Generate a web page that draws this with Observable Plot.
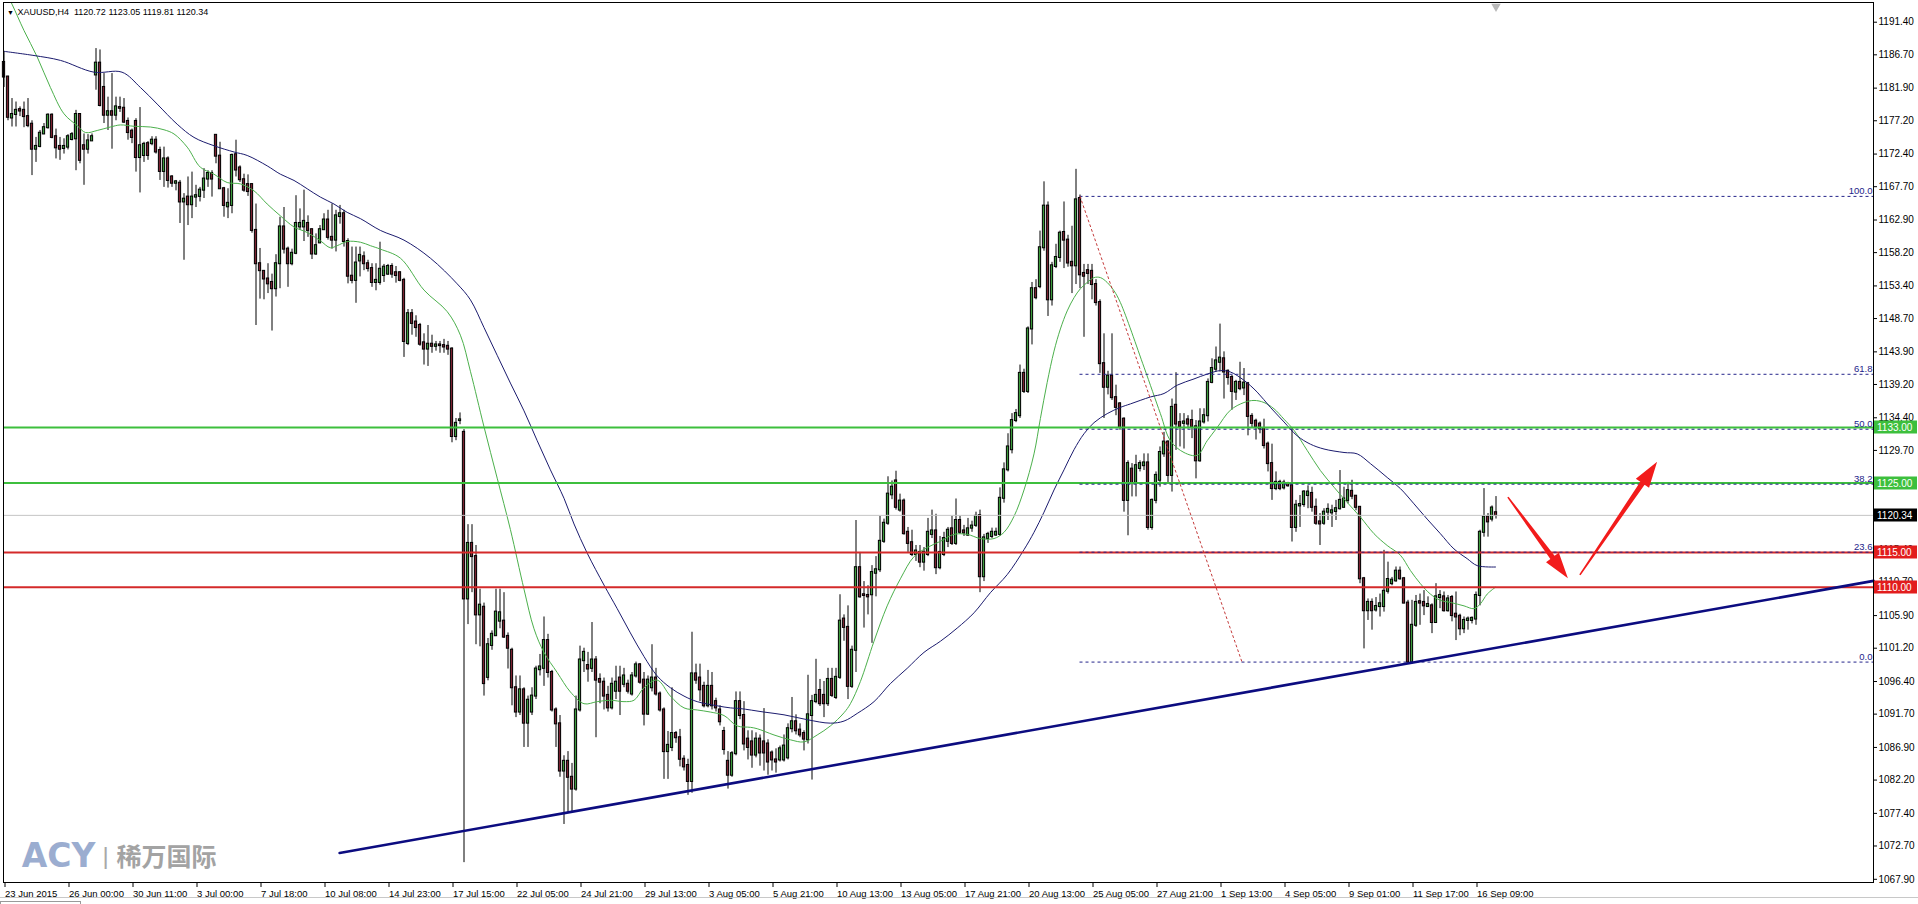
<!DOCTYPE html>
<html>
<head>
<meta charset="utf-8">
<script src="https://cdn.jsdelivr.net/npm/d3@7"></script>
<script src="https://cdn.jsdelivr.net/npm/@observablehq/plot@0.6"></script>
<style>
  html, body { margin: 0; padding: 0; background: #ffffff; overflow: hidden; }
  #chart svg { display: block; }
</style>
</head>
<body>
<div id="chart"></div>
<script>
// ---------- DATA ----------
const symbolTitle = "XAUUSD,H4";
const titleValues = ["1120.72", "1123.05", "1119.81", "1120.34"];

const open = [1185.6,1183.5,1177.6,1178.1,1178.8,1178.7,1177.8,1176.7,1173.1,1173.5,
1175.3,1176.2,1178.0,1174.9,1173.5,1173.2,1173.4,1174.5,1174.6,1178.1,
1173.6,1173.1,1174.3,1183.8,1185.5,1182.0,1178.0,1178.5,1178.0,1179.1,
1179.0,1177.1,1175.7,1177.1,1171.9,1172.2,1173.9,1173.9,1174.4,1172.9,
1169.9,1171.7,1169.1,1168.2,1168.2,1165.5,1166.2,1165.1,1166.2,1166.3,
1167.2,1168.8,1169.6,1175.1,1172.1,1167.4,1164.8,1165.0,1172.3,1170.4,
1168.7,1168.0,1168.0,1161.4,1156.6,1155.5,1154.4,1153.9,1153.0,1156.6,
1161.9,1158.7,1156.6,1158.1,1161.9,1161.9,1162.4,1161.5,1158.0,1159.6,
1161.5,1162.9,1160.4,1160.0,1163.4,1163.8,1159.8,1154.8,1154.2,1157.0,
1157.6,1156.6,1155.9,1153.9,1153.9,1154.9,1155.1,1156.2,1155.3,1155.3,
1154.2,1145.1,1149.4,1148.2,1147.7,1145.2,1144.3,1145.0,1144.7,1144.9,
1144.8,1144.7,1144.3,1131.7,1134.0,1132.3,1108.3,1116.3,1114.4,1106.0,
1107.1,1097.0,1101.6,1103.0,1105.1,1105.1,1102.9,1100.9,1095.5,1092.0,
1095.2,1090.4,1092.0,1094.3,1098.1,1098.3,1102.3,1097.7,1092.3,1090.3,
1083.5,1084.9,1082.6,1080.9,1092.3,1099.4,1098.7,1098.3,1099.5,1096.7,
1096.3,1094.4,1092.6,1095.0,1096.9,1096.0,1096.0,1094.6,1097.2,1098.8,
1096.6,1091.7,1095.5,1096.9,1094.6,1092.3,1086.3,1086.9,1088.9,1088.3,
1085.2,1084.3,1082.0,1097.5,1096.9,1095.7,1092.9,1095.7,1093.5,1092.3,
1089.2,1084.9,1082.9,1086.0,1093.5,1091.5,1088.1,1087.7,1085.8,1088.1,
1087.7,1087.4,1086.1,1085.1,1085.1,1085.1,1085.4,1089.6,1090.6,1089.4,
1088.9,1088.0,1091.5,1093.5,1095.1,1094.4,1093.2,1096.7,1094.1,1097.0,
1105.4,1104.2,1095.7,1100.9,1112.8,1108.9,1108.8,1108.9,1112.0,1112.5,
1116.6,1119.2,1123.3,1125.3,1121.1,1122.4,1117.9,1116.4,1114.7,1115.0,
1113.6,1114.7,1117.6,1118.1,1112.8,1114.7,1116.6,1118.4,1116.3,1119.6,
1118.1,1117.5,1118.5,1118.9,1120.3,1111.5,1117.0,1117.3,1117.5,1117.6,
1122.8,1126.9,1129.8,1134.0,1134.7,1140.8,1138.2,1147.2,1153.0,1153.3,
1158.9,1164.9,1151.4,1156.2,1157.5,1161.1,1160.0,1156.8,1156.3,1166.0,
1155.2,1155.6,1155.5,1153.6,1151.0,1142.2,1138.8,1140.4,1137.3,1136.4,
1134.2,1122.5,1127.0,1125.1,1127.1,1127.5,1127.9,1118.6,1122.5,1125.4,
1129.2,1130.9,1126.1,1136.2,1133.7,1133.6,1134.1,1134.0,1133.1,1128.2,
1133.8,1134.7,1139.5,1141.4,1142.4,1142.9,1141.1,1140.2,1138.1,1139.5,
1138.7,1139.3,1134.6,1133.9,1133.5,1132.8,1130.6,1127.8,1124.2,1125.1,
1124.3,1124.8,1124.6,1118.6,1121.7,1121.9,1123.2,1123.5,1121.5,1119.4,
1119.2,1120.8,1120.7,1120.9,1121.3,1121.5,1122.5,1123.8,1123.1,1121.5,
1111.2,1106.6,1107.8,1106.7,1107.2,1107.2,1109.4,1110.5,1110.9,1112.3,
1111.2,1107.7,1099.2,1104.5,1107.9,1107.8,1107.2,1107.3,1104.9,1108.5,
1108.6,1106.6,1108.5,1106.1,1105.8,1104.0,1105.2,1105.2,1105.4,1108.8,
1117.9,1120.1,1119.8,1120.72];

const high = [1187.2,1183.6,1180.4,1179.9,1179.2,1179.9,1180.4,1177.2,1174.8,1175.8,
1176.8,1178.2,1178.2,1176.0,1174.8,1174.6,1175.2,1175.5,1178.7,1178.2,
1175.3,1175.2,1175.3,1187.6,1187.4,1184.0,1180.6,1184.0,1180.6,1180.6,
1180.4,1177.6,1176.0,1177.5,1179.1,1174.1,1174.2,1174.9,1174.9,1173.4,
1173.4,1172.0,1169.3,1168.6,1168.6,1166.7,1169.1,1169.8,1167.9,1167.6,
1170.3,1170.0,1170.0,1175.1,1174.1,1167.6,1167.4,1172.4,1174.4,1170.7,
1169.5,1169.4,1168.1,1165.2,1158.8,1155.6,1156.6,1155.1,1157.9,1163.3,
1164.7,1159.0,1158.7,1166.4,1164.5,1167.2,1163.5,1161.6,1160.9,1162.1,
1163.8,1164.3,1165.2,1164.3,1165.0,1164.3,1160.2,1159.0,1159.0,1159.0,
1158.3,1157.1,1156.6,1156.6,1159.7,1156.5,1156.5,1156.6,1156.2,1155.4,
1154.5,1150.0,1150.0,1149.1,1148.0,1146.5,1147.7,1146.3,1145.4,1145.4,
1145.7,1145.4,1144.5,1134.3,1135.1,1132.7,1119.0,1119.0,1116.0,1109.7,
1107.7,1102.6,1103.7,1109.7,1109.7,1109.2,1103.4,1101.2,1097.2,1097.2,
1095.5,1094.3,1095.5,1098.6,1100.3,1105.7,1103.2,1098.0,1092.6,1091.5,
1085.7,1086.3,1084.6,1094.3,1101.5,1101.2,1100.6,1104.9,1100.0,1097.5,
1096.9,1095.7,1096.9,1098.6,1098.6,1098.3,1096.6,1097.7,1099.2,1099.0,
1097.7,1097.2,1101.7,1098.3,1094.9,1092.6,1089.2,1095.5,1089.2,1089.5,
1085.7,1085.2,1103.5,1098.9,1098.9,1096.3,1098.0,1097.7,1094.0,1092.9,
1089.8,1086.3,1086.3,1094.9,1094.9,1093.5,1089.3,1089.3,1089.0,1088.7,
1092.5,1088.0,1086.4,1086.7,1087.1,1088.7,1090.3,1094.1,1091.6,1090.3,
1089.3,1097.3,1094.4,1099.6,1096.7,1096.4,1098.3,1098.3,1098.3,1108.9,
1106.0,1107.3,1101.5,1119.6,1115.0,1110.8,1110.2,1113.1,1114.4,1120.2,
1119.8,1125.9,1125.3,1126.7,1123.4,1122.7,1118.6,1118.2,1116.0,1116.0,
1115.7,1119.9,1121.1,1120.5,1117.3,1117.9,1118.6,1120.2,1122.7,1120.2,
1118.9,1119.9,1119.5,1120.8,1121.1,1117.6,1117.9,1118.5,1118.5,1124.3,
1127.9,1132.1,1135.0,1135.6,1142.0,1141.4,1147.5,1153.9,1154.3,1161.3,
1168.4,1165.5,1156.8,1159.4,1161.3,1165.5,1160.7,1162.0,1170.2,1166.5,
1156.5,1156.5,1156.5,1154.3,1151.4,1146.5,1141.1,1146.5,1139.1,1136.6,
1134.4,1128.2,1127.8,1129.0,1128.2,1129.2,1129.2,1122.7,1126.6,1130.2,
1132.3,1131.1,1137.1,1140.9,1135.0,1135.0,1134.7,1135.5,1134.0,1135.7,
1135.7,1140.0,1142.9,1144.6,1147.9,1143.9,1141.3,1140.5,1139.8,1142.4,
1141.5,1139.5,1135.0,1134.2,1133.8,1134.2,1130.9,1130.6,1126.6,1125.4,
1125.4,1125.1,1132.8,1122.5,1123.2,1123.9,1124.6,1124.4,1122.7,1120.6,
1121.3,1122.0,1121.8,1122.5,1126.8,1124.4,1125.1,1125.4,1123.2,1121.6,
1111.4,1108.3,1108.3,1108.5,1109.0,1115.3,1113.6,1111.4,1112.9,1112.9,
1111.4,1108.1,1108.1,1108.8,1109.0,1109.5,1108.6,1107.6,1110.5,1109.5,
1109.3,1108.8,1108.8,1109.3,1106.1,1105.7,1105.7,1105.7,1109.3,1118.2,
1124.2,1120.6,1121.7,1123.05];

const low = [1182.0,1177.2,1176.3,1176.3,1177.8,1176.2,1176.2,1169.3,1171.2,1173.3,
1175.2,1176.0,1174.6,1171.7,1171.5,1172.4,1173.0,1174.3,1170.0,1171.0,
1167.9,1172.4,1174.3,1181.6,1179.2,1176.8,1175.8,1173.1,1177.2,1178.4,
1176.8,1174.4,1173.9,1169.8,1166.8,1171.2,1171.5,1173.6,1172.4,1168.6,
1167.6,1167.5,1167.6,1167.1,1162.4,1157.1,1162.1,1163.1,1164.7,1165.5,
1166.0,1167.6,1166.2,1171.0,1167.4,1163.3,1163.1,1163.8,1169.1,1168.3,
1166.9,1166.3,1161.0,1147.7,1151.5,1151.4,1152.3,1146.9,1151.8,1153.0,
1158.0,1153.2,1156.3,1157.9,1161.4,1159.8,1160.4,1157.2,1157.8,1159.5,
1161.4,1160.0,1158.7,1158.3,1162.3,1159.0,1153.7,1153.7,1150.9,1154.7,
1155.6,1155.4,1153.2,1152.7,1153.5,1153.9,1154.9,1154.5,1153.8,1154.0,
1143.1,1144.8,1146.3,1146.0,1144.7,1142.0,1141.8,1143.7,1144.0,1143.7,
1143.7,1143.4,1130.8,1131.1,1133.4,1070.3,1104.6,1109.2,1101.7,1101.4,
1094.3,1096.5,1100.9,1102.9,1104.0,1102.6,1098.2,1092.9,1091.2,1091.5,
1086.9,1086.9,1091.5,1093.8,1097.2,1095.7,1096.9,1092.0,1086.9,1082.6,
1075.8,1077.5,1077.5,1080.6,1092.0,1097.7,1096.3,1097.7,1088.3,1093.2,
1092.3,1092.0,1092.3,1093.8,1091.5,1095.5,1094.6,1094.3,1096.9,1096.0,
1090.0,1091.5,1094.9,1094.3,1092.0,1082.3,1082.3,1086.3,1087.5,1084.1,
1083.5,1080.0,1080.3,1096.0,1093.5,1092.6,1092.6,1092.3,1092.0,1090.0,
1085.8,1080.9,1082.6,1085.7,1090.9,1086.4,1085.1,1083.9,1085.4,1084.2,
1083.5,1082.9,1083.5,1083.2,1084.8,1084.8,1085.1,1089.0,1088.7,1088.3,
1086.4,1087.4,1082.2,1093.2,1092.8,1091.2,1092.8,1094.1,1093.8,1096.7,
1102.2,1093.8,1095.4,1097.7,1108.4,1104.1,1106.0,1101.9,1108.6,1112.1,
1116.3,1118.9,1122.6,1121.1,1120.8,1117.5,1115.0,1114.4,1113.7,1112.8,
1112.3,1114.4,1117.0,1111.8,1112.5,1114.4,1115.7,1116.0,1116.0,1117.6,
1117.3,1117.3,1117.9,1118.6,1109.2,1110.8,1116.3,1117.0,1117.3,1117.3,
1122.1,1126.6,1129.2,1133.7,1134.3,1137.9,1137.9,1144.9,1151.4,1153.0,
1158.4,1149.0,1150.5,1155.9,1156.8,1155.9,1156.1,1152.3,1153.6,1153.0,
1146.0,1153.6,1151.4,1150.5,1140.8,1134.3,1137.7,1136.9,1134.7,1132.6,
1120.8,1117.4,1123.0,1123.0,1126.6,1126.8,1118.2,1118.2,1122.0,1124.4,
1128.7,1124.9,1123.7,1129.7,1130.2,1129.9,1132.8,1131.4,1125.6,1128.0,
1133.5,1133.8,1139.3,1141.0,1141.0,1137.1,1139.1,1135.5,1136.9,1138.3,
1137.6,1131.8,1133.0,1131.2,1132.1,1129.9,1126.6,1122.5,1123.9,1123.9,
1124.0,1124.4,1116.5,1117.9,1118.6,1121.5,1121.3,1120.8,1118.9,1116.0,
1118.9,1119.6,1118.6,1119.6,1121.1,1121.4,1122.0,1122.6,1121.0,1110.5,
1101.1,1105.2,1103.8,1106.4,1105.7,1106.4,1109.0,1110.2,1110.7,1111.0,
1107.6,1099.0,1098.9,1104.2,1104.5,1105.9,1107.1,1103.3,1104.8,1106.9,
1106.4,1106.4,1105.0,1102.3,1103.0,1103.3,1103.8,1104.7,1104.5,1107.3,
1117.2,1117.2,1119.4,1119.81];

const close = [1183.5,1177.7,1178.1,1178.7,1178.6,1177.8,1176.5,1173.1,1173.5,1175.4,
1176.2,1178.0,1174.8,1173.3,1173.1,1173.5,1174.9,1175.2,1178.1,1171.5,
1173.1,1174.3,1174.9,1185.5,1179.4,1178.0,1178.5,1178.0,1179.2,1179.0,
1177.0,1175.5,1174.8,1171.9,1173.6,1173.8,1172.2,1174.4,1172.7,1169.9,
1171.7,1168.6,1168.2,1168.4,1165.5,1165.9,1165.1,1166.2,1166.4,1167.2,
1168.8,1169.6,1168.8,1172.1,1167.4,1165.0,1165.3,1172.2,1170.1,1168.7,
1167.2,1167.0,1161.4,1156.6,1155.6,1154.4,1153.7,1153.0,1156.6,1161.9,
1158.7,1156.6,1158.1,1162.4,1162.4,1162.7,1161.4,1158.0,1159.2,1161.5,
1162.9,1160.4,1160.0,1163.5,1163.8,1159.8,1154.8,1154.2,1156.7,1157.8,
1156.6,1155.9,1153.9,1154.2,1155.8,1156.1,1156.2,1155.1,1154.9,1154.2,
1145.4,1149.4,1148.0,1147.4,1145.0,1144.3,1145.0,1144.7,1144.9,1144.8,
1144.6,1144.3,1131.7,1133.6,1134.1,1108.3,1116.3,1114.4,1106.0,1107.4,
1096.1,1101.7,1103.2,1106.4,1106.3,1102.8,1101.2,1095.5,1092.0,1095.2,
1090.4,1093.7,1094.3,1098.2,1098.5,1102.3,1097.7,1092.3,1090.3,1083.5,
1084.9,1082.6,1080.9,1092.3,1099.5,1100.6,1098.2,1099.5,1096.6,1096.3,
1094.3,1092.6,1096.0,1096.3,1095.0,1097.2,1095.0,1097.2,1098.8,1096.3,
1091.7,1096.6,1096.9,1094.6,1092.3,1086.3,1087.2,1088.9,1088.3,1085.2,
1084.1,1082.0,1097.5,1096.6,1095.2,1092.9,1095.7,1092.9,1092.6,1090.6,
1086.6,1082.9,1086.0,1093.5,1091.5,1087.4,1086.9,1085.8,1088.1,1086.1,
1086.1,1084.8,1085.1,1084.8,1086.7,1087.1,1089.6,1090.6,1089.3,1088.7,
1088.1,1091.6,1093.5,1094.4,1093.2,1093.2,1096.7,1094.4,1097.0,1105.1,
1104.2,1095.7,1100.9,1112.8,1108.6,1108.8,1108.6,1112.1,1112.5,1116.6,
1119.2,1123.4,1124.4,1121.5,1122.4,1117.7,1116.3,1114.7,1115.2,1113.6,
1115.0,1117.9,1118.1,1112.8,1115.0,1117.0,1118.2,1116.3,1119.6,1117.9,
1117.8,1118.4,1118.8,1120.2,1111.5,1117.1,1117.6,1117.9,1117.9,1122.8,
1126.9,1130.2,1134.0,1135.0,1140.8,1138.2,1147.2,1153.0,1151.7,1158.9,
1164.9,1151.4,1156.3,1157.5,1161.0,1160.0,1156.7,1156.3,1165.8,1155.0,
1154.8,1155.2,1153.6,1151.0,1142.2,1138.8,1140.4,1137.3,1135.9,1133.0,
1122.5,1127.8,1125.0,1127.5,1127.8,1127.9,1118.6,1122.5,1126.1,1129.4,
1130.9,1126.1,1135.9,1133.5,1133.1,1133.8,1133.5,1133.1,1128.2,1133.8,
1134.7,1139.5,1141.5,1142.6,1143.0,1141.0,1140.2,1138.2,1139.5,1138.6,
1139.4,1134.6,1133.6,1133.1,1132.8,1130.4,1127.8,1124.2,1125.1,1124.2,
1125.0,1124.6,1118.6,1121.8,1121.9,1123.7,1123.7,1121.5,1119.2,1119.1,
1120.8,1121.2,1121.0,1121.3,1122.5,1122.7,1123.9,1123.1,1121.5,1111.2,
1106.6,1107.8,1106.6,1107.2,1107.6,1109.4,1111.1,1111.0,1112.3,1111.2,
1107.7,1099.2,1104.5,1107.8,1107.7,1107.3,1107.5,1104.9,1108.6,1108.8,
1106.6,1108.3,1105.9,1105.7,1104.0,1105.2,1105.4,1105.5,1108.8,1117.9,
1120.1,1119.4,1121.4,1120.34];

// fast moving average (green), read at bar positions
const maFastIdx = [0,2,5,8.3,11.6,15,18.3,20.4,23.3,26.6,29.1,32.5,36.6,40,42.5,45.8,49.1,52.5,55.8,59.1,62.5,65.8,69.1,72.5,75.8,79.1,81.6,83.3,85.8,89.1,91.6,94.1,99.1,105,110.8,114.1,116.6,120,123.3,126.6,130,132.5,135,138.3,141.6,145,148.3,151.6,155,157.5,160,163.3,166.6,170,173.3,176.6,180,183.3,186.6,188.3,192.5,196.6,200,203.3,206.6,210,211.6,214.1,217.5,220.8,224.1,227.5,230.8,234.1,237.5,240.8,244.1,247.5,250,252.5,255,257.5,259.1,260.8,262.5,264.1,265.8,267.5,269.1,270.8,272.5,274.1,275.8,277.5,279.1,285,289.1,291.6,295,298.3,300.8,303.3,306.6,310,312.5,315,317.5,320,322.5,325.8,329.1,332.5,335.8,339.1,342.5,345.8,349.1,351.6,354.1,356.6,359.1,361.6,365,367.5,369.1,370.8,372.9];
const maFastVal = [1196.3,1194.0,1190.2,1186.4,1182.0,1178.2,1176.5,1175.5,1175.8,1176.3,1176.6,1176.4,1176.3,1175.9,1175.3,1173.4,1170.5,1169.5,1168.3,1168.1,1167.1,1165.2,1163.5,1161.9,1161.1,1159.9,1158.9,1159.2,1159.8,1159.7,1159.2,1158.7,1157.4,1152.8,1149.7,1146.3,1141.1,1133.1,1125.7,1118.3,1109.7,1104.0,1100.6,1097.7,1094.9,1093.2,1093.5,1093.7,1093.5,1093.7,1095.5,1096.6,1094.3,1092.6,1092.3,1092.0,1091.5,1090.0,1089.8,1089.6,1088.7,1088.0,1087.7,1088.7,1090.0,1091.9,1093.2,1096.4,1102.2,1107.3,1111.2,1114.4,1115.7,1116.6,1117.6,1117.6,1117.0,1117.0,1117.9,1120.2,1124.0,1129.2,1134.3,1139.5,1144.0,1147.2,1149.8,1151.7,1153.0,1153.9,1154.6,1154.6,1153.9,1152.7,1151.0,1141.7,1135.0,1131.1,1129.4,1129.0,1131.1,1133.0,1135.5,1136.6,1136.9,1136.6,1135.7,1134.2,1132.6,1129.7,1126.8,1124.4,1122.2,1120.1,1117.7,1116.0,1114.6,1112.4,1110.5,1109.0,1108.1,1107.8,1107.3,1106.9,1107.6,1109.0,1110.0];

// slow moving average (dark blue)
const maSlowIdx = [0,7.5,14.1,22.5,29.5,34.1,38.3,43.3,47.5,52.5,57.5,60.8,65.8,69.1,72.5,75.8,79.1,82.5,85.8,89.1,94.1,100,106.6,113.3,116.6,120,123.3,126.6,130,133.3,136.6,140,142.5,145.8,150,153.3,156.6,160,163.3,166.6,170,173.3,178.3,181.6,184.1,190,195,200.8,206.6,210,213.3,217.5,221.6,225.8,230,234.1,238.3,242.5,246.6,250.8,255,257.5,260,262.5,265,267.5,270,272.5,275.8,279.1,281.6,286.6,290,293.3,297.5,300.8,304.1,306.6,310,313.3,316.6,320,323.3,326.6,330,335,338.3,341.6,345.8,349.1,352.5,355.8,359.1,362.5,365.8,368.3,372.9];
const maSlowVal = [1187.2,1186.6,1185.9,1184.2,1184.2,1182.0,1179.6,1176.7,1174.8,1173.6,1172.7,1172.2,1170.7,1169.5,1168.6,1167.4,1166.2,1165.2,1164.0,1163.1,1161.4,1160.0,1157.4,1153.7,1151.4,1147.4,1143.4,1139.4,1135.4,1131.1,1126.9,1122.8,1119.1,1114.9,1110.3,1106.9,1103.4,1100.0,1097.2,1095.5,1094.3,1093.5,1092.9,1092.6,1092.5,1092.0,1091.6,1090.9,1090.4,1090.7,1091.8,1093.5,1096.1,1098.3,1100.6,1102.2,1104.1,1106.3,1109.2,1111.8,1115.4,1117.9,1120.8,1124.0,1126.9,1129.8,1132.1,1133.7,1135.0,1135.9,1136.4,1137.4,1137.9,1139.1,1140.0,1140.7,1141.2,1141.0,1139.8,1138.1,1135.9,1133.8,1131.8,1130.6,1129.9,1129.4,1129.2,1127.8,1125.8,1124.2,1122.0,1119.8,1117.7,1115.5,1114.1,1113.1,1112.9];

// time axis labels, one every 16 bars
const xTickIdx = [0,16,32,48,64,80,96,112,128,144,160,176,192,208,224,240,256,272,288,304,320,336,352,368];
const xTickLabels = ["23 Jun 2015","26 Jun 00:00","30 Jun 11:00","3 Jul 00:00","7 Jul 18:00","10 Jul 08:00","14 Jul 23:00","17 Jul 15:00","22 Jul 05:00","24 Jul 21:00","29 Jul 13:00","3 Aug 05:00","5 Aug 21:00","10 Aug 13:00","13 Aug 05:00","17 Aug 21:00","20 Aug 13:00","25 Aug 05:00","27 Aug 21:00","1 Sep 13:00","4 Sep 05:00","9 Sep 01:00","11 Sep 17:00","16 Sep 09:00"];

// price axis ticks
const yTicks = [1191.4,1186.7,1181.9,1177.2,1172.4,1167.7,1162.9,1158.2,1153.4,1148.7,1143.9,1139.2,1134.4,1129.7,1124.9,1120.2,1115.4,1110.7,1105.9,1101.2,1096.4,1091.7,1086.9,1082.2,1077.4,1072.7,1067.9];

// horizontal levels
const resistanceLevels = [1133, 1125];
const supportLevels = [1115, 1110];
const lastPrice = 1120.34;

// fibonacci retracement
const fibRatios = [0, 23.6, 38.2, 50, 61.8, 100];
const fibLowPrice = 1099.2;
const fibHighPrice = 1166.3;
const fibStartBar = 269;
const fibEndBar = 309.5;

// rising trend line (bar, price)
const trendBars = [83.9, 467.4];
const trendPrices = [1071.7, 1110.9];

// red arrows: [bar, price] of tail and tip
const arrowTails = [[376.1, 1122.9], [394.1, 1111.7]];
const arrowTips  = [[391.1, 1111.2], [413.4, 1128.0]];

// right-side price tags
const tagValues = [1133, 1125, 1120.34, 1115, 1110];
const tagColors = ["#3dbf3d", "#3dbf3d", "#000000", "#e21d1d", "#e21d1d"];

// ---------- BUILD ----------
const bars = d3.range(open.length).map(i => ({i, o: open[i], h: high[i], l: low[i], c: close[i]}));
const maFast = maFastIdx.map((x, k) => ({x, y: maFastVal[k]}));
const maSlow = maSlowIdx.map((x, k) => ({x, y: maSlowVal[k]}));
const fib = fibRatios.map(r => ({r, p: fibLowPrice + r / 100 * (fibHighPrice - fibLowPrice)}));
const trend = trendBars.map((x, k) => ({x, y: trendPrices[k]}));
const diag = [{x: fibStartBar, y: fibHighPrice}, {x: fibEndBar, y: fibLowPrice}];
const tags = tagValues.map((v, k) => ({v, bg: tagColors[k]}));
const labelOf = new Map(xTickIdx.map((d, k) => [d, xTickLabels[k]]));

const W = 1918, H = 904;
const mL = 3, mR = 45, mT = 2, mB = 22;
const xMax = -0.125 + (W - mR - mL) / 4;

const BULL = "#3c9b3c", BEAR = "#7a2231";
const FONT = "Liberation Sans, Arial, sans-serif";

function arrowsMark(index, scales, values, dims) {
  const g = d3.create("svg:g");
  arrowTails.forEach((t, k) => {
    const p = arrowTips[k];
    const x0 = scales.x(t[0]), y0 = scales.y(t[1]);
    const x1 = scales.x(p[0]), y1 = scales.y(p[1]);
    const dx = x1 - x0, dy = y1 - y0, len = Math.hypot(dx, dy);
    const ux = dx / len, uy = dy / len, nx = -uy, ny = ux;
    const hl = 26, hb = 8, sw = 2.6, tw = 0.8;
    const hx = x1 - ux * hl, hy = y1 - uy * hl;
    const pts = [
      [x0 + nx * tw, y0 + ny * tw], [hx + nx * sw, hy + ny * sw], [hx + nx * hb, hy + ny * hb],
      [x1, y1], [hx - nx * hb, hy - ny * hb], [hx - nx * sw, hy - ny * sw], [x0 - nx * tw, y0 - ny * tw]
    ];
    g.append("polygon").attr("points", pts.map(q => q.join(",")).join(" ")).attr("fill", "#f21b1b");
  });
  return g.node();
}

function tagsMark(index, scales, values, dims) {
  const g = d3.create("svg:g").attr("text-anchor", "start");
  const xr = dims.width - dims.marginRight;
  tags.forEach(t => {
    const y = Math.round(scales.y(t.v));
    g.append("rect").attr("x", xr + 1).attr("y", y - 6.5).attr("width", 43).attr("height", 13).attr("fill", t.bg);
    g.append("text").attr("x", xr + 4).attr("y", y).attr("dy", "0.36em").attr("text-anchor", "start")
      .attr("fill", "#ffffff").attr("font-size", 10).attr("font-family", FONT)
      .text(t.v.toFixed(2));
  });
  return g.node();
}

function statusBar(index, scales, values, dims) {
  const g = d3.create("svg:g");
  g.append("line").attr("x1", 0).attr("x2", dims.width).attr("y1", dims.height - 6.5).attr("y2", dims.height - 6.5)
    .attr("stroke", "#c8c8c8");
  g.append("rect").attr("x", 0.5).attr("y", dims.height - 2.5).attr("width", 80).attr("height", 4)
    .attr("fill", "none").attr("stroke", "#9a9a9a");
  return g.node();
}

const chart = Plot.plot({
  width: W, height: H,
  marginLeft: mL, marginRight: mR, marginTop: mT, marginBottom: mB,
  style: {fontFamily: FONT, fontSize: "10px", background: "#ffffff", color: "#000"},
  x: {domain: [-0.125, xMax]},
  y: {domain: [1067.44, 1194.24]},
  marks: [
    // candles
    Plot.ruleX(bars, {x: "i", y1: "l", y2: "h", stroke: "#000", strokeWidth: 1}),
    Plot.rect(bars, {x1: d => d.i - 0.28, x2: d => d.i + 0.28, y1: "o", y2: "c",
      fill: d => d.c >= d.o ? BULL : BEAR, stroke: "#000", strokeWidth: 1, insetTop: -0.5, insetBottom: -0.5}),
    // moving averages
    Plot.line(maFast, {x: "x", y: "y", stroke: "#4cb04c", strokeWidth: 1, curve: "catmull-rom", clip: true}),
    Plot.line(maSlow, {x: "x", y: "y", stroke: "#1b1b6e", strokeWidth: 1, curve: "catmull-rom", clip: true}),
    // current price line
    Plot.ruleY([lastPrice], {stroke: "#c4c4c4", strokeWidth: 1}),
    // levels
    Plot.ruleY(resistanceLevels, {stroke: "#3dbf3d", strokeWidth: 2}),
    Plot.ruleY(supportLevels, {stroke: "#d42a2a", strokeWidth: 2}),
    // fibonacci
    Plot.ruleY(fib, {y: "p", x1: fibStartBar, x2: xMax, stroke: "#24248a", strokeWidth: 1, strokeDasharray: "3,3"}),
    Plot.text(fib, {y: "p", x: xMax, text: d => d.r.toFixed(1), textAnchor: "end", dx: -1, dy: -5,
      fill: "#24248a", fontSize: 9.5}),
    Plot.line(diag, {x: "x", y: "y", stroke: "#c43a3a", strokeWidth: 1, strokeDasharray: "2,3"}),
    // trend line
    Plot.line(trend, {x: "x", y: "y", stroke: "#0c0c80", strokeWidth: 2.6}),
    // arrows
    arrowsMark,
    // frame and axes
    Plot.frame({stroke: "#000", strokeWidth: 1}),
    Plot.axisY({anchor: "right", ticks: yTicks, tickFormat: d => d.toFixed(2), tickSize: 3, tickPadding: 2,
      fontSize: 10, label: null}),
    Plot.axisX({anchor: "bottom", ticks: xTickIdx, tickFormat: d => labelOf.get(d), tickSize: 5, tickPadding: 3,
      textAnchor: "start", dx: 1, fontSize: 9.5, label: null}),
    tagsMark,
    statusBar,
    // header
    Plot.text(["\u25BC"], {frameAnchor: "top-left", dx: 7, dy: 10, fontSize: 7, textAnchor: "middle", lineAnchor: "middle", fill: "#000"}),
    Plot.text([symbolTitle + "\u00a0\u00a0" + titleValues.join(" ")], {frameAnchor: "top-left", dx: 14, dy: 10,
      textAnchor: "start", lineAnchor: "middle", fontSize: 9, fill: "#000"}),
    // shift marker
    Plot.dot([open.length - 1], {x: d => d, frameAnchor: "top", dy: 4, symbol: "triangle", rotate: 180, r: 3.5, fill: "#b8b8b8", stroke: "none"}),
    // watermark
    Plot.text(["ACY"], {frameAnchor: "bottom-left", dx: 55, dy: -26, fontSize: 33, fontWeight: "bold",
      textAnchor: "middle", lineAnchor: "middle", fill: "#9badd0", fontFamily: "DejaVu Sans, sans-serif"}),
    Plot.text(["|"], {frameAnchor: "bottom-left", dx: 102, dy: -26, fontSize: 24,
      textAnchor: "middle", lineAnchor: "middle", fill: "#a8a8a8"}),
    Plot.text(["稀万国际"], {frameAnchor: "bottom-left", dx: 163, dy: -25, fontSize: 25, fontWeight: "bold",
      textAnchor: "middle", lineAnchor: "middle", fill: "#a3a3a3", fontFamily: "Noto Sans CJK SC"})
  ]
});
document.getElementById("chart").appendChild(chart);
</script>
</body>
</html>
